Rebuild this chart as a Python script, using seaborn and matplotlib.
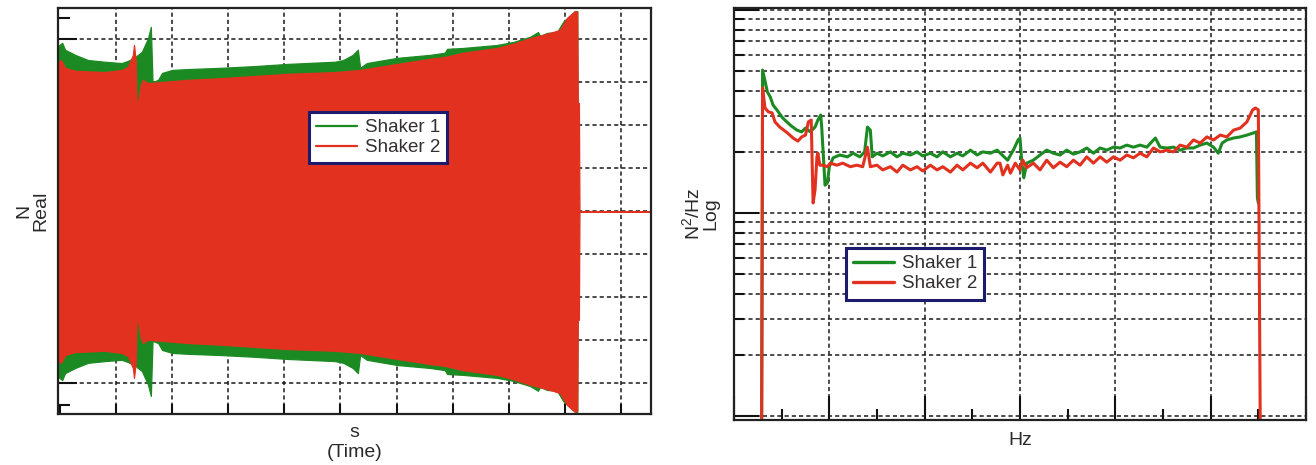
import numpy as np
import pandas as pd
import matplotlib
matplotlib.use("Agg")
import matplotlib.pyplot as plt
from matplotlib.lines import Line2D
from matplotlib.ticker import MultipleLocator, LogLocator, NullFormatter, NullLocator
import seaborn as sns

# ---- Time history: peak envelope of the swept-sine force (N) per shaker ----
time_s1 = [-0.03, 0.04, 0.09, 0.27, 0.50, 0.80, 1.10, 1.21, 1.34, 1.46,
           1.57, 1.62, 1.65, 1.75, 1.82, 2.00, 2.28, 2.89, 3.48, 4.06,
           4.90, 5.05, 5.22, 5.31, 5.35, 5.47, 6.01, 6.60, 6.86, 6.90,
           7.18, 7.79, 8.08, 8.38, 8.52, 8.56, 8.68, 8.86, 8.97, 9.18,
           9.22, 9.23, 10.54]
amp_s1 = [3.85, 3.92, 3.76, 3.64, 3.52, 3.48, 3.45, 3.50, 3.59, 3.71,
          4.03, 4.29, 3.01, 3.06, 3.22, 3.29, 3.31, 3.34, 3.38, 3.43,
          3.48, 3.52, 3.64, 3.76, 3.34, 3.45, 3.57, 3.64, 3.69, 3.78,
          3.80, 3.87, 3.94, 4.06, 4.17, 4.08, 4.15, 4.17, 4.41, 4.66,
          4.66, 0.0, 0.0]

time_s2 = [-0.03, 0.02, 0.09, 0.27, 0.80, 1.10, 1.21, 1.30, 1.32, 1.35,
           1.37, 1.39, 1.44, 1.48, 1.55, 1.64, 2.28, 2.89, 3.48, 4.06,
           4.90, 5.35, 6.01, 6.60, 6.86, 7.18, 7.79, 8.08, 8.38, 8.68,
           8.91, 9.04, 9.18, 9.22, 9.23, 9.25, 9.26, 10.54]
amp_s2 = [3.48, 3.52, 3.34, 3.27, 3.24, 3.29, 3.36, 3.64, 3.87, 3.52,
          2.31, 2.55, 2.94, 3.06, 2.99, 2.99, 3.06, 3.10, 3.15, 3.20,
          3.24, 3.29, 3.43, 3.55, 3.59, 3.69, 3.80, 3.90, 4.03, 4.13,
          4.22, 4.50, 4.66, 4.64, 2.52, 2.52, 0.0, 0.0]

# ---- Power spectral density (N^2/Hz) per shaker ----
freq_s1 = [0.29, 0.30, 0.35, 0.38, 0.41, 0.45, 0.51, 0.59, 0.66, 0.71,
           0.75, 0.80, 0.85, 0.88, 0.91, 0.92, 0.94, 0.955, 0.98, 1.00,
           1.04, 1.11, 1.19, 1.25, 1.32, 1.37, 1.40, 1.43, 1.45, 1.50,
           1.56, 1.64, 1.71, 1.77, 1.85, 1.92, 1.98, 2.06, 2.13, 2.19,
           2.27, 2.34, 2.40, 2.48, 2.55, 2.61, 2.69, 2.76, 2.87, 2.93,
           2.98, 3.00, 3.02, 3.04, 3.07, 3.14, 3.21, 3.28, 3.35, 3.42,
           3.49, 3.56, 3.63, 3.70, 3.77, 3.84, 3.91, 3.98, 4.05, 4.12,
           4.19, 4.26, 4.33, 4.42, 4.47, 4.54, 4.61, 4.68, 4.75, 4.82,
           4.89, 4.96, 5.03, 5.08, 5.12, 5.17, 5.24, 5.31, 5.38, 5.45,
           5.48, 5.49, 5.50]
psd_s1 = [0.09, 5.06, 3.95, 3.73, 3.40, 3.22, 2.94, 2.71, 2.56, 2.51,
          2.62, 2.51, 2.65, 2.87, 3.04, 2.65, 1.82, 1.37, 1.41, 1.69,
          1.87, 1.93, 1.89, 1.97, 1.89, 2.00, 2.65, 2.56, 1.89, 1.97,
          1.91, 2.00, 1.89, 1.97, 1.93, 2.00, 1.91, 1.97, 1.89, 2.00,
          1.89, 1.97, 1.91, 2.04, 1.93, 2.00, 1.97, 2.04, 1.82, 2.04,
          2.29, 2.34, 1.76, 1.49, 1.76, 1.82, 1.93, 2.04, 1.97, 1.93,
          2.04, 1.95, 2.00, 2.09, 1.97, 2.09, 2.04, 2.11, 2.09, 2.16,
          2.11, 2.16, 2.11, 2.34, 2.11, 2.09, 2.11, 2.04, 2.09, 2.09,
          2.16, 2.21, 2.11, 1.97, 2.21, 2.29, 2.34, 2.37, 2.42, 2.48,
          2.51, 1.19, 1.12]

freq_s2 = [0.29, 0.30, 0.325, 0.36, 0.40, 0.43, 0.48, 0.56, 0.62, 0.67,
           0.71, 0.75, 0.78, 0.81, 0.82, 0.83, 0.85, 0.87, 0.88, 0.90,
           0.93, 0.98, 1.01, 1.08, 1.14, 1.22, 1.29, 1.35, 1.40, 1.43,
           1.50, 1.56, 1.64, 1.71, 1.77, 1.85, 1.92, 1.98, 2.06, 2.13,
           2.19, 2.27, 2.34, 2.40, 2.48, 2.55, 2.61, 2.69, 2.76, 2.79,
           2.82, 2.87, 2.90, 2.95, 3.00, 3.03, 3.07, 3.14, 3.21, 3.28,
           3.35, 3.42, 3.49, 3.56, 3.63, 3.70, 3.77, 3.84, 3.91, 3.98,
           4.05, 4.12, 4.19, 4.26, 4.33, 4.40, 4.47, 4.54, 4.61, 4.68,
           4.75, 4.82, 4.89, 4.96, 5.03, 5.10, 5.17, 5.24, 5.31, 5.38,
           5.44, 5.47, 5.50, 5.52]
psd_s2 = [0.09, 4.13, 3.29, 3.15, 3.11, 2.81, 2.65, 2.48, 2.34, 2.26,
          2.37, 2.42, 2.81, 2.87, 1.76, 1.12, 1.30, 1.89, 1.97, 1.72,
          1.72, 1.69, 1.76, 1.72, 1.76, 1.69, 1.72, 1.69, 2.11, 1.69,
          1.72, 1.63, 1.69, 1.59, 1.72, 1.63, 1.69, 1.61, 1.72, 1.63,
          1.69, 1.59, 1.72, 1.63, 1.76, 1.67, 1.76, 1.59, 1.76, 1.76,
          1.54, 1.72, 1.57, 1.76, 1.63, 1.82, 1.67, 1.76, 1.63, 1.82,
          1.67, 1.78, 1.69, 1.82, 1.72, 1.89, 1.76, 1.89, 1.78, 1.89,
          1.82, 1.93, 1.87, 1.97, 1.89, 2.09, 2.00, 2.04, 2.00, 2.16,
          2.11, 2.29, 2.21, 2.37, 2.29, 2.42, 2.37, 2.56, 2.62, 2.81,
          3.22, 3.29, 3.22, 0.09]

series_names = ["Shaker 1", "Shaker 2"]
palette = {"Shaker 1": "#1c8a22", "Shaker 2": "#e2321f"}

sns.set_style("white")
plt.rcParams["font.family"] = ["Liberation Sans", "DejaVu Sans"]
plt.rcParams["mathtext.fontset"] = "custom"
plt.rcParams["mathtext.rm"] = "Liberation Sans"
plt.rcParams["mathtext.it"] = "Liberation Sans:italic"
plt.rcParams["mathtext.default"] = "regular"
plt.rcParams["lines.scale_dashes"] = False

text_color = "#2a2a2a"
legend_text = "#333030"
frame_color = "#1d1b6e"
grid_style = dict(color="#1a1a1a", linestyle=(0, (3.0, 2.2)), linewidth=1.1)
label_size = 14

fig = plt.figure(figsize=(13.16, 4.65), dpi=100)
ax1 = fig.add_axes([0.04407, 0.10968, 0.45061, 0.87312])
ax2 = fig.add_axes([0.55775, 0.09677, 0.43465, 0.88602])

# ---------------- Left: force time history ----------------
ax1.set_xlim(-0.035, 10.535)
ax1.set_ylim(-4.71, 4.73)
ax1.xaxis.set_major_locator(MultipleLocator(1))
ax1.yaxis.set_major_locator(MultipleLocator(1))
ax1.yaxis.set_minor_locator(MultipleLocator(0.5))
ax1.xaxis.set_minor_locator(NullLocator())

# grid sits under the filled signal, ticks stay on top
for xv in range(1, 11):
    ax1.axvline(xv, zorder=0.4, **grid_style)
for yv in range(-4, 5):
    ax1.axhline(yv, zorder=0.4, **grid_style)

t1 = np.asarray(time_s1); a1 = np.asarray(amp_s1)
t2 = np.asarray(time_s2); a2 = np.asarray(amp_s2)
ax1.fill_between(t1, -a1, a1, color=palette["Shaker 1"], linewidth=0.9,
                 edgecolor=palette["Shaker 1"], zorder=1)
ax1.fill_between(t2, -a2, a2, color=palette["Shaker 2"], linewidth=0.9,
                 edgecolor=palette["Shaker 2"], zorder=1.1)

ax1.tick_params(axis="y", which="major", direction="in", length=14, width=1.5,
                left=True, right=False, labelleft=False, color="#111111")
ax1.tick_params(axis="y", which="minor", direction="in", length=8.5, width=1.5,
                left=True, right=False, color="#111111")
ax1.tick_params(axis="x", which="major", direction="in", length=7, width=1.5,
                bottom=True, top=False, labelbottom=False, color="#111111")
ax1.set_ylabel("N\nReal", fontsize=label_size, color=text_color, linespacing=0.95, labelpad=3)
ax1.set_xlabel("s\n(Time)", fontsize=label_size, color=text_color, linespacing=1.25, labelpad=7)

# ---------------- Right: PSD ----------------
psd_df = pd.concat([
    pd.DataFrame({"freq": freq_s1, "psd": psd_s1, "shaker": "Shaker 1"}),
    pd.DataFrame({"freq": freq_s2, "psd": psd_s2, "shaker": "Shaker 2"}),
], ignore_index=True)

ax2.set_yscale("log")
ax2.set_xlim(0, 6)
ax2.set_ylim(0.0955, 10.23)
ax2.set_axisbelow(True)
ax2.xaxis.set_major_locator(MultipleLocator(1))
ax2.xaxis.set_minor_locator(MultipleLocator(0.5))
ax2.yaxis.set_major_locator(LogLocator(base=10))
ax2.yaxis.set_minor_locator(LogLocator(base=10, subs=np.arange(2, 10)))
ax2.yaxis.set_major_formatter(NullFormatter())
ax2.yaxis.set_minor_formatter(NullFormatter())
ax2.grid(True, which="major", axis="x", **grid_style)
ax2.grid(True, which="both", axis="y", **grid_style)

sns.lineplot(data=psd_df, x="freq", y="psd", hue="shaker", hue_order=series_names,
             palette=palette, sort=False, estimator=None, linewidth=2.2,
             legend=False, ax=ax2)

ax2.tick_params(axis="y", which="major", direction="in", length=18, width=1.5,
                left=True, right=False, labelleft=False, color="#111111")
ax2.tick_params(axis="y", which="minor", direction="in", length=7, width=1.5,
                left=True, right=False, color="#111111")
ax2.tick_params(axis="x", which="major", direction="in", length=17, width=1.5,
                bottom=True, top=False, labelbottom=False, color="#111111")
ax2.tick_params(axis="x", which="minor", direction="in", length=8, width=1.5,
                bottom=True, top=False, color="#111111")
ax2.set_ylabel("N$^{2}$/Hz\nLog", fontsize=label_size, color=text_color, linespacing=0.95, labelpad=7)
ax2.set_xlabel("Hz", fontsize=label_size, color=text_color, labelpad=5)

for ax in (ax1, ax2):
    for sp in ax.spines.values():
        sp.set_visible(True)
        sp.set_color("#222222")
        sp.set_linewidth(1.6)
        sp.set_zorder(3)

# ---------------- Legends ----------------
def add_legend(ax, anchor, lw):
    handles = [Line2D([], [], color=palette[n], linewidth=lw) for n in series_names]
    leg = ax.legend(handles, series_names, loc="upper left", bbox_to_anchor=anchor,
                    frameon=True, fancybox=False, framealpha=1, edgecolor=frame_color,
                    fontsize=13.5, borderpad=0.38, labelspacing=0.15, handlelength=2.2,
                    handletextpad=0.4, borderaxespad=0)
    leg.get_frame().set_linewidth(2.2)
    for txt in leg.get_texts():
        txt.set_color(legend_text)
    leg.set_zorder(5)
    return leg

add_legend(ax1, (0.423, 0.744), 1.6)
add_legend(ax2, (0.196, 0.417), 2.4)

fig.savefig("out.png", dpi=100)
